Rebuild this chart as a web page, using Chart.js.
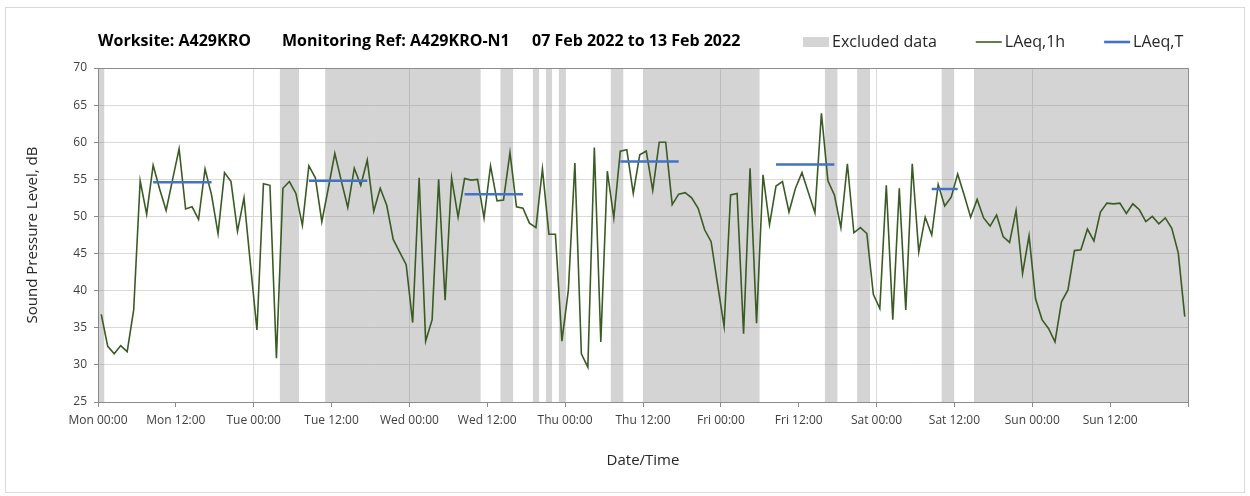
<!DOCTYPE html>
<html>
<head>
<meta charset="utf-8">
<title>Noise monitoring A429KRO-N1</title>
<script src="https://cdn.jsdelivr.net/npm/chart.js@4.4.1/dist/chart.umd.min.js"></script>
<style>
  html, body { margin: 0; padding: 0; background: #fff; }
  #chart { display: block; }
</style>
</head>
<body>
<canvas id="chart" width="1250" height="496"></canvas>
<script>
// ---- data ---------------------------------------------------------------

// x tick labels, one every 12 hours (0..168)
const tickLabels = [
  'Mon 00:00', 'Mon 12:00', 'Tue 00:00', 'Tue 12:00', 'Wed 00:00', 'Wed 12:00',
  'Thu 00:00', 'Thu 12:00', 'Fri 00:00', 'Fri 12:00', 'Sat 00:00', 'Sat 12:00',
  'Sun 00:00', 'Sun 12:00', ''
];

// hourly LAeq,1h, hour 0 = Mon 00:00
const laeq1h = [
  36.8, 32.5, 31.5, 32.6, 31.8, 37.4, 54.8, 50.3, 56.9, 53.7, 50.8, 55.0,
  59.1, 51.0, 51.3, 49.6, 56.4, 52.9, 47.7, 55.9, 54.7, 48.0, 52.5, 43.5,
  34.7, 54.4, 54.2, 30.9, 53.8, 54.7, 53.1, 48.8, 56.8, 55.2, 49.3, 53.8,
  58.5, 54.8, 51.2, 56.5, 54.2, 57.6, 50.7, 53.8, 51.5, 46.9, 45.2, 43.5,
  35.7, 55.2, 33.2, 36.1, 55.0, 38.7, 55.2, 49.9, 55.1, 54.9, 55.0, 49.8,
  56.8, 52.1, 52.2, 58.6, 51.3, 51.1, 49.1, 48.5, 56.4, 47.6, 47.6, 33.2,
  40.1, 57.2, 31.5, 29.7, 59.3, 33.1, 56.1, 49.8, 58.8, 59.0, 53.1, 58.3,
  58.8, 53.5, 60.0, 60.0, 51.6, 53.0, 53.2, 52.5, 51.1, 48.2, 46.6, 40.8,
  35.2, 52.9, 53.1, 34.2, 56.5, 35.6, 55.6, 48.9, 54.1, 54.7, 50.6, 53.8,
  55.9, 53.2, 50.5, 63.9, 54.8, 52.9, 48.5, 57.1, 47.8, 48.5, 47.7, 39.5,
  37.6, 54.2, 36.1, 53.8, 37.4, 57.1, 45.2, 49.9, 47.5, 54.3, 51.4, 52.6,
  55.7, 52.9, 49.9, 52.3, 49.8, 48.7, 50.2, 47.3, 46.5, 50.8, 42.3, 47.4,
  38.9, 36.1, 34.9, 33.1, 38.5, 40.1, 45.4, 45.5, 48.3, 46.7, 50.6, 51.8,
  51.7, 51.8, 50.4, 51.7, 50.9, 49.3, 50.0, 49.0, 49.8, 48.4, 45.1, 36.5
];

// LAeq,T periods (first and last hour of each period) and level
const periodStart = [8, 32, 56, 80, 104, 128];
const periodEnd   = [17, 41, 65, 89, 113, 132];
const periodLevel = [54.6, 54.8, 53.0, 57.4, 57.0, 53.7];

// excluded data, [first hour, end hour)
const excludedFrom = [0, 28, 35, 62, 67, 69, 71, 79, 84, 112, 117, 130, 135];
const excludedTo   = [1, 31, 59, 64, 68, 70, 72, 81, 102, 114, 119, 132, 168];

const titleParts = ['Worksite: A429KRO', 'Monitoring Ref: A429KRO-N1', '07 Feb 2022 to 13 Feb 2022'];

// ---- build datasets -----------------------------------------------------

const Y_MIN = 25, Y_MAX = 70;

const linePoints = laeq1h.map((v, h) => ({ x: h + 0.5, y: v }));

const periodPoints = [];
periodStart.forEach((s, i) => {
  periodPoints.push({ x: s + 0.5, y: periodLevel[i] });
  periodPoints.push({ x: periodEnd[i] + 0.5, y: periodLevel[i] });
  periodPoints.push({ x: periodEnd[i] + 0.5, y: null });
});

// each excluded period becomes one filled block from the top of the axis down to its floor
const excludedPoints = [];
excludedFrom.forEach((f, i) => {
  excludedPoints.push({ x: f, y: Y_MAX });
  excludedPoints.push({ x: excludedTo[i], y: Y_MAX });
  excludedPoints.push({ x: excludedTo[i], y: null });
});

// ---- styling ------------------------------------------------------------

const GREEN = '#3b5b24';
const BLUE = '#4472c4';
const BAND = 'rgba(128,128,128,0.34)';
const GRID = '#d9d9d9';
const AXIS = '#8c8c8c';
const FONT = '"Open Sans", "DejaVu Sans", sans-serif';

// frame, title and legend drawn on the canvas
const headerPlugin = {
  id: 'header',
  beforeDraw(chart) {
    const { ctx } = chart;
    ctx.save();
    ctx.strokeStyle = '#d9d9d9';
    ctx.lineWidth = 1;
    ctx.strokeRect(5.5, 7.5, 1239, 485);
    ctx.restore();
  },
  afterDatasetsDraw(chart) {
    const { ctx, chartArea: a } = chart;
    ctx.save();
    ctx.strokeStyle = AXIS;
    ctx.lineWidth = 1;
    ctx.beginPath();
    ctx.moveTo(Math.round(a.left) + 0.5, Math.round(a.top) + 0.5);
    ctx.lineTo(Math.round(a.right) + 0.5, Math.round(a.top) + 0.5);
    ctx.lineTo(Math.round(a.right) + 0.5, Math.round(a.bottom));
    ctx.stroke();
    ctx.restore();
  },
  afterDraw(chart) {
    const { ctx } = chart;
    ctx.save();
    // title
    ctx.fillStyle = '#000';
    ctx.font = 'bold 16px ' + FONT;
    ctx.textBaseline = 'alphabetic';
    const titleX = [98, 282, 532];
    titleParts.forEach((t, i) => ctx.fillText(t, titleX[i], 46));

    // legend
    ctx.font = '16px ' + FONT;
    ctx.textBaseline = 'middle';
    const ds = chart.data.datasets;
    const order = [2, 0, 1];
    let x = 803;
    const y = 42;
    order.forEach(idx => {
      const d = ds[idx];
      if (idx === 2) {
        ctx.fillStyle = d.backgroundColor;
        ctx.fillRect(x, y - 5, 26, 10);
      } else {
        ctx.strokeStyle = d.borderColor;
        ctx.lineWidth = d.borderWidth;
        ctx.beginPath();
        ctx.moveTo(x, y);
        ctx.lineTo(x + 26, y);
        ctx.stroke();
      }
      ctx.fillStyle = '#262626';
      ctx.fillText(d.label, x + 29, y);
      x += 29 + ctx.measureText(d.label).width + 39;
    });
    ctx.restore();
  }
};

new Chart(document.getElementById('chart'), {
  type: 'line',
  data: {
    datasets: [
      {
        label: 'LAeq,1h', data: linePoints,
        borderColor: GREEN, borderWidth: 1.6, pointRadius: 0, tension: 0, order: 2
      },
      {
        label: 'LAeq,T', data: periodPoints,
        borderColor: BLUE, borderWidth: 2.6, pointRadius: 0, tension: 0, spanGaps: false, order: 1
      },
      {
        label: 'Excluded data', data: excludedPoints,
        backgroundColor: BAND, borderColor: 'rgba(0,0,0,0)', borderWidth: 0,
        pointRadius: 0, tension: 0, spanGaps: false,
        fill: { value: Y_MIN }, order: 3
      }
    ]
  },
  options: {
    responsive: false,
    animation: false,
    layout: { padding: { left: 10, right: 62, top: 68, bottom: 0 } },
    plugins: { legend: { display: false }, tooltip: { enabled: false } },
    scales: {
      x: {
        type: 'linear', min: 0, max: 168, offset: false,
        afterFit(s) { s.height = 94; },
        ticks: {
          stepSize: 12, autoSkip: false, maxRotation: 0, padding: 6,
          color: '#404040', font: { family: FONT, size: 12 },
          callback: v => tickLabels[v / 12]
        },
        grid: {
          color: c => (c.tick && c.tick.value % 24 === 0) ? GRID : 'rgba(0,0,0,0)',
          tickColor: AXIS, tickLength: 5, drawTicks: true
        },
        border: { color: AXIS },
        title: {
          display: true, text: 'Date/Time', color: '#262626',
          font: { family: FONT, size: 15 }, padding: { top: 0, bottom: 26 }
        }
      },
      y: {
        min: Y_MIN, max: Y_MAX,
        afterFit(s) { s.width = 88; },
        ticks: { stepSize: 5, padding: 7, color: '#404040', font: { family: FONT, size: 12 } },
        grid: { color: GRID, tickColor: AXIS, tickLength: 4 },
        border: { color: AXIS },
        title: {
          display: true, text: 'Sound Pressure Level, dB', color: '#262626',
          font: { family: FONT, size: 15 }, padding: { top: 14, bottom: 0 }
        }
      }
    }
  },
  plugins: [headerPlugin]
});
</script>
</body>
</html>
